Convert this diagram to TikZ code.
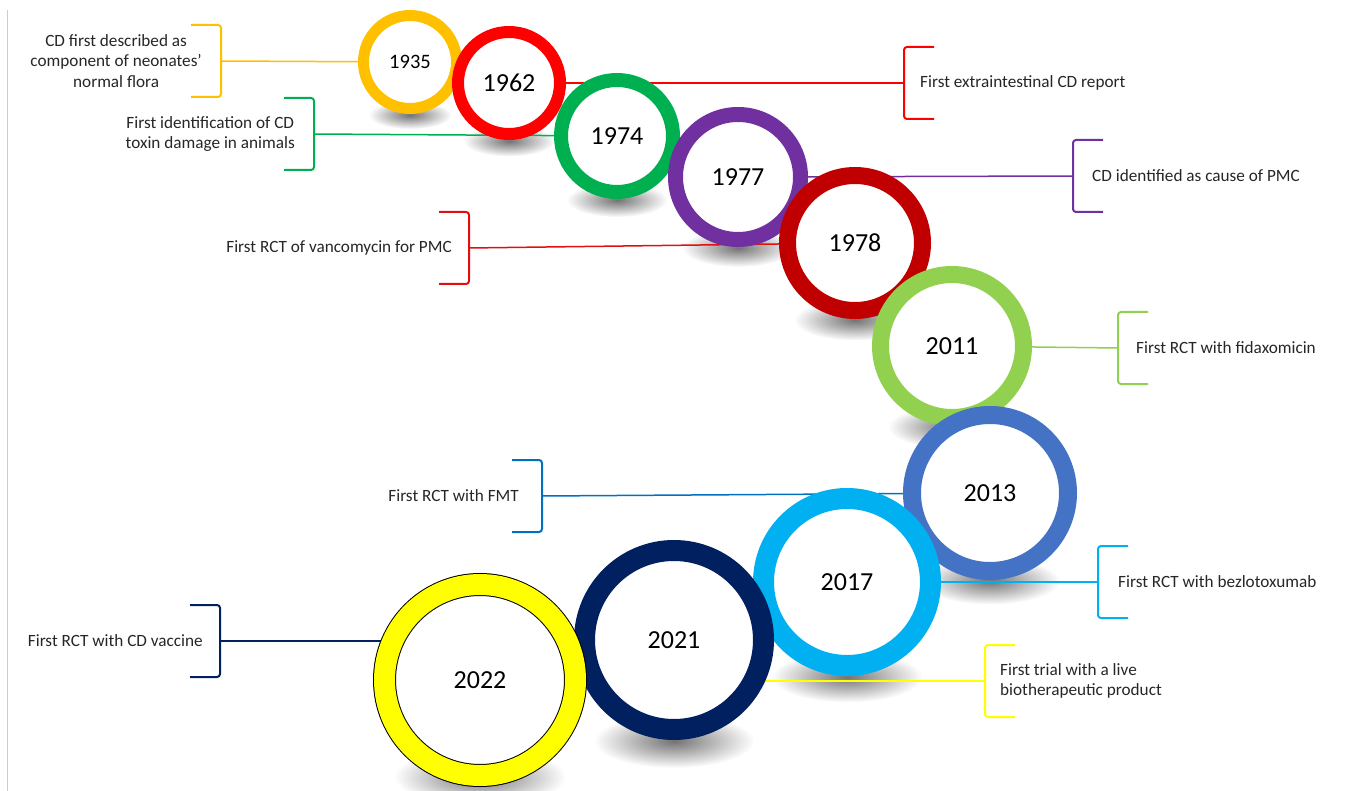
\documentclass[tikz,border=0pt]{standalone}
\usepackage{fontspec}
\setmainfont{Carlito}
\usetikzlibrary{positioning,fadings,backgrounds}

\definecolor{c1935}{HTML}{FFC000}
\definecolor{c1962}{HTML}{FF0000}
\definecolor{c1974}{HTML}{00B050}
\definecolor{c1977}{HTML}{7030A0}
\definecolor{c1978}{HTML}{C00000}
\definecolor{l1978}{HTML}{E01010}
\definecolor{c2011}{HTML}{92D050}
\definecolor{c2013}{HTML}{4472C4}
\definecolor{l2013}{HTML}{0070C0}
\definecolor{c2017}{HTML}{00B0F0}
\definecolor{c2021}{HTML}{002060}
\definecolor{c2022}{HTML}{FFFF00}

\tikzfading[name=blob, inner color=transparent!45, outer color=transparent!100]

\tikzset{
  ring/.style={circle, fill=white, text=black, inner sep=0pt,
    font=\fontsize{26}{30}\selectfont},
  blur/.style={fill=black, path fading=blob},
  note/.style={inner sep=0pt, text=black!85,
    font=\fontsize{17.2}{20.5}\selectfont}
}

% brackets: text on the left / text on the right
\newcommand{\closebrak}[2]{\draw[#2, line width=2pt, rounded corners=3pt]
  ([shift={(-30,-36)}]#1) -- ++(30,0) -- ++(0,72) -- ++(-30,0);}
\newcommand{\openbrak}[2]{\draw[#2, line width=2pt, rounded corners=3pt]
  ([shift={(30,-36)}]#1) -- ++(-30,0) -- ++(0,72) -- ++(30,0);}

\begin{document}
\begin{tikzpicture}[x=1pt,y=-1pt]
  \useasboundingbox (0,0) rectangle (1346,791);
  \draw[black!20] (7,10) -- (7,791);

  \coordinate (b1935) at (221,61);
  \coordinate (b1962) at (904,83);
  \coordinate (b1974) at (314,134);
  \coordinate (b1977) at (1073,176);
  \coordinate (b1978) at (469,248);
  \coordinate (b2011) at (1118,348);
  \coordinate (b2013) at (542,496);
  \coordinate (b2017) at (1098,582);
  \coordinate (b2021) at (985,681);
  \coordinate (b2022) at (220,641);

  \begin{scope}[every node/.style={ring}]
    \node[draw=c1935, line width=11pt, minimum size=93pt,
      font=\fontsize{20.5}{24}\selectfont] (1935) at (410,62) {1935};
    \node[draw=c1962, line width=12pt, minimum size=102pt] (1962) at (509,83)  {1962};
    \node[draw=c1974, line width=14pt, minimum size=112pt] (1974) at (617,136) {1974};
    \node[draw=c1977, line width=15pt, minimum size=125pt] (1977) at (738,177) {1977};
    \node[draw=c1978, line width=17pt, minimum size=135pt] (1978) at (855,243) {1978};
    \node[draw=c2011, line width=17pt, minimum size=143pt] (2011) at (952,346) {2011};
    \node[draw=c2013, line width=18pt, minimum size=156pt] (2013) at (990,493) {2013};
    \node[draw=c2017, line width=21pt, minimum size=167pt] (2017) at (847,582) {2017};
    \node[draw=c2021, line width=21pt, minimum size=179pt] (2021) at (674,640) {2021};
    \node[draw=black, line width=1pt, double=c2022, double distance=21pt,
      minimum size=191pt] (2022) at (480,680) {2022};
  \end{scope}

  % soft shadows under the rings
  \begin{scope}[on background layer]
    \foreach \yr/\r in {1935/52, 1962/57, 1974/63, 1977/70, 1978/76,
                        2011/80, 2013/87, 2017/94, 2021/100, 2022/107}
      \fill[blur] ([yshift=-1pt]\yr.south) ellipse ({0.8*\r} and {0.27*\r});
  \end{scope}

  \begin{scope}[on background layer, every edge/.style={draw, line width=1.5pt}]
    \path (b1935) edge[c1935] (1935);
    \path (b1962) edge[c1962] (1962);
    \path (b1974) edge[c1974] (1974);
    \path (b1977) edge[c1977] (1977);
    \path (b1978) edge[l1978] (1978);
    \path (b2011) edge[c2011] (2011);
    \path (b2013) edge[l2013] (2013);
    \path (b2017) edge[c2017] (2017);
    \path (b2021) edge[c2022] (b2021 -| 2021);
    \path (b2022) edge[c2021] (b2022 -| 2022);
  \end{scope}

  \closebrak{b1935}{c1935}
  \openbrak{b1962}{c1962}
  \closebrak{b1974}{c1974}
  \openbrak{b1977}{c1977}
  \closebrak{b1978}{l1978}
  \openbrak{b2011}{c2011}
  \closebrak{b2013}{l2013}
  \openbrak{b2017}{c2017}
  \openbrak{b2021}{c2022}
  \closebrak{b2022}{c2021}

  \begin{scope}[every node/.style={note}]
    \node[left=19pt of b1935, align=center] (t1935)
      {CD first described as\\component of neonates’\\normal flora};
    \node[right=16pt of b1962] (t1962) {First extraintestinal CD report};
    \node[left=19pt of b1974, align=center] (t1974)
      {First identification of CD\\toxin damage in animals};
    \node[right=19pt of b1977] (t1977) {CD identified as cause of PMC};
    \node[left=17pt of b1978] (t1978) {First RCT of vancomycin for PMC};
    \node[right=18pt of b2011] (t2011) {First RCT with fidaxomicin};
    \node[left=23pt of b2013] (t2013) {First RCT with FMT};
    \node[right=20pt of b2017] (t2017) {First RCT with bezlotoxumab};
    \node[right=15pt of b2021, align=left] (t2021)
      {First trial with a live\\biotherapeutic product};
    \node[left=17pt of b2022] (t2022) {First RCT with CD vaccine};
  \end{scope}
\end{tikzpicture}
\end{document}
